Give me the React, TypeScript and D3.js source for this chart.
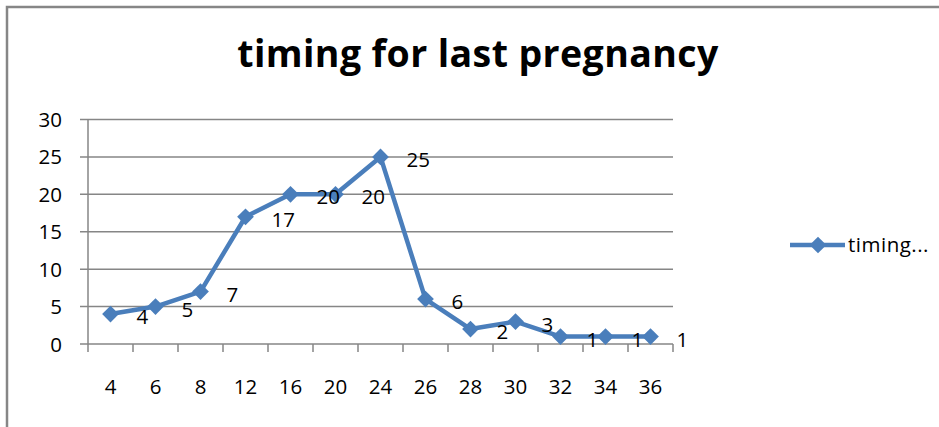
import React, { useEffect, useRef } from 'react';
import * as d3 from 'd3';

// weeks category and counts
const weeks = ['4', '6', '8', '12', '16', '20', '24', '26', '28', '30', '32', '34', '36'];
const counts = [4, 5, 7, 17, 20, 20, 25, 6, 2, 3, 1, 1, 1];
const yTicks = [0, 5, 10, 15, 20, 25, 30];
const seriesName = 'timing...';
const title = 'timing for last pregnancy';

const W = 939;
const H = 427;
const FONT = '"Open Sans", sans-serif';
const BLUE = '#4a7ebb';
const GRID = '#868686';

const App = () => {
  const ref = useRef<SVGSVGElement>(null);

  useEffect(() => {
    const svg = d3.select(ref.current);
    svg.selectAll('*').remove();

    // chart frame
    svg.append('rect')
      .attr('x', 7).attr('y', 7)
      .attr('width', W + 20).attr('height', H + 20)
      .attr('fill', 'white')
      .attr('stroke', GRID).attr('stroke-width', 2.5);

    svg.append('text')
      .attr('x', 478).attr('y', 67)
      .attr('text-anchor', 'middle')
      .attr('font-family', FONT)
      .attr('font-weight', 'bold')
      .attr('font-size', 37.5)
      .attr('letter-spacing', 0.4)
      .text(title);

    const x = d3.scaleBand().domain(weeks).range([88, 673]).padding(0);
    const y = d3.scaleLinear().domain([0, 30]).range([344, 119.5]);

    // gridlines
    svg.append('g')
      .selectAll('line')
      .data(yTicks)
      .enter().append('line')
      .attr('x1', 80).attr('x2', 673)
      .attr('y1', d => y(d)).attr('y2', d => y(d))
      .attr('stroke', GRID).attr('stroke-width', 1.5);

    // y axis line
    svg.append('line')
      .attr('x1', 88).attr('x2', 88)
      .attr('y1', y(30)).attr('y2', y(0))
      .attr('stroke', GRID).attr('stroke-width', 1.5);

    // x ticks at band edges
    const edges = weeks.map(w => x(w)!).concat([673]);
    svg.append('g')
      .selectAll('line')
      .data(edges)
      .enter().append('line')
      .attr('x1', d => d).attr('x2', d => d)
      .attr('y1', 344).attr('y2', 352)
      .attr('stroke', GRID).attr('stroke-width', 1.5);

    // y labels
    svg.append('g')
      .selectAll('text')
      .data(yTicks)
      .enter().append('text')
      .attr('x', 62).attr('y', d => y(d) + 7.5)
      .attr('text-anchor', 'end')
      .attr('font-family', FONT).attr('font-size', 20.5)
      .text(d => d);

    // x labels
    svg.append('g')
      .selectAll('text')
      .data(weeks)
      .enter().append('text')
      .attr('x', d => x(d)! + x.bandwidth() / 2).attr('y', 394)
      .attr('text-anchor', 'middle')
      .attr('font-family', FONT).attr('font-size', 20.5)
      .text(d => d);

    const cx = (i: number) => x(weeks[i])! + x.bandwidth() / 2;

    const line = d3.line<number>()
      .x((d, i) => cx(i))
      .y(d => y(d));

    svg.append('path')
      .datum(counts)
      .attr('d', line)
      .attr('fill', 'none')
      .attr('stroke', BLUE).attr('stroke-width', 4.5)
      .attr('stroke-linejoin', 'round');

    const diamond = d3.symbol().type(d3.symbolSquare).size(140);
    svg.append('g')
      .selectAll('path')
      .data(counts)
      .enter().append('path')
      .attr('d', diamond)
      .attr('transform', (d, i) => `translate(${cx(i)},${y(d)}) rotate(45)`)
      .attr('fill', BLUE);

    // data labels
    svg.append('g')
      .selectAll('text')
      .data(counts)
      .enter().append('text')
      .attr('x', (d, i) => cx(i) + 26).attr('y', (d) => y(d) + 10)
      .attr('font-family', FONT).attr('font-size', 20.5)
      .text(d => d);

    // legend
    svg.append('line')
      .attr('x1', 790).attr('x2', 845)
      .attr('y1', 245).attr('y2', 245)
      .attr('stroke', BLUE).attr('stroke-width', 4.5);
    svg.append('path')
      .attr('d', diamond)
      .attr('transform', 'translate(818,245) rotate(45)')
      .attr('fill', BLUE);
    svg.append('text')
      .attr('x', 848).attr('y', 252)
      .attr('font-family', FONT).attr('font-size', 20.5)
      .attr('letter-spacing', 0.5)
      .text(seriesName);
  }, []);

  return (
    <div style={{ position: 'fixed', left: 0, top: 0 }}>
      <svg ref={ref} width={W} height={H} style={{ display: 'block' }}></svg>
    </div>
  );
};

export default App;
